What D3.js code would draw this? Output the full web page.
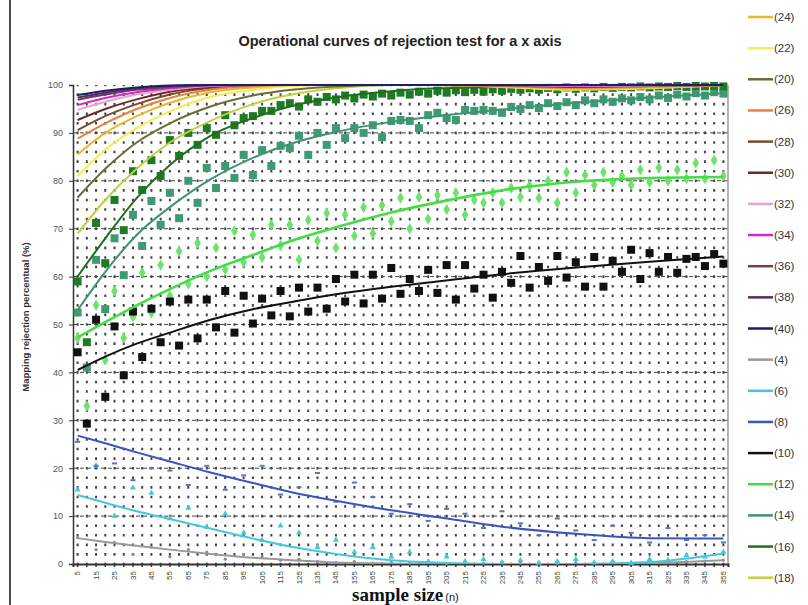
<!DOCTYPE html>
<html>
<head>
<meta charset="utf-8">
<script src="https://cdn.jsdelivr.net/npm/d3@7/dist/d3.min.js"></script>
<style>
  body { margin: 0; background: #fff; }
  svg { display: block; font-family: "Liberation Sans", Arial, sans-serif; }
</style>
</head>
<body>
<svg id="chart" width="808" height="605"></svg>
<script>
// ---- data ----
const sampleSizes = [5,10,15,20,25,30,35,40,45,50,55,60,65,70,75,80,85,90,95,100,
  105,110,115,120,125,130,135,140,145,150,155,160,165,170,175,180,185,190,195,200,
  205,210,215,220,225,230,235,240,245,250,255,260,265,270,275,280,285,290,295,300,
  305,310,315,320,325,330,335,340,345,350,355];
const tickLabels = [5,15,25,35,45,55,65,75,85,95,105,115,125,135,145,155,165,175,
  185,195,205,215,225,235,245,255,265,275,285,295,305,315,325,335,345,355];
const yTicks = [0,10,20,30,40,50,60,70,80,90,100];

// fitted curves, sampled at these sample sizes
const trendX = [5, 20, 37, 55, 77, 100, 121, 145, 175, 200, 235, 275, 315, 355];
const trend4  = [5.4, 4.6, 3.8, 3.0, 2.1, 1.3, 0.8, 0.3, 0.1, 0, 0, 0, 0.2, 0.8];
const trend6  = [14.4, 12.8, 11.0, 9.4, 7.4, 5.3, 3.6, 2.1, 0.8, 0.3, 0, 0, 0.4, 2.2];
const trend8  = [26.8, 25.2, 23.3, 21.4, 19.1, 16.9, 15.0, 13.2, 11.2, 9.8, 7.8, 6.3, 5.4, 5.3];
const trend10 = [40.5, 43.3, 46, 48.3, 51, 53.2, 54.7, 56.3, 57.9, 59, 60.5, 61.9, 63.1, 64.2];
const trend12 = [47.3, 50.5, 54, 57.4, 61.2, 64.5, 67.5, 70.3, 73.4, 75.5, 78, 79.8, 80.6, 80.8];
const trend14 = [53, 61, 68.7, 74.5, 80.3, 84.8, 87.8, 90.2, 92.3, 93.5, 94.9, 96.3, 97.4, 98.3];
const trend16 = [60, 68, 76.4, 83.3, 89.4, 93.1, 95.6, 97.4, 98.7, 99.3, 99.6, 99.8, 99.8, 99.9];
const trend18 = [69, 76, 82.5, 88, 92.5, 96, 98, 99.3, 100, 100, 99.8, 99.5, 99.7, 100];
const trend20 = [76.5, 82.5, 88, 92, 95.5, 97.8, 99, 99.7, 100, 100, 100, 100, 100, 100];
const trend22 = [81, 86.5, 91, 94.5, 97.5, 99, 99.8, 100, 100, 100, 99.6, 99, 99.3, 100];
const trend24 = [85.5, 90, 93.5, 96.3, 98.5, 99.5, 100, 100, 100, 100, 99.7, 99.2, 99.5, 100];
const trend26 = [88.8, 92, 95, 97.3, 99, 99.8, 100, 100, 100, 100, 99.8, 99.4, 99.7, 100];
const trend28 = [90.6, 93.5, 96, 98, 99.4, 100, 100, 100, 100, 100, 99.9, 99.6, 99.8, 100];
const trend30 = [92.7, 95, 97, 98.6, 99.6, 100, 100, 100, 100, 100, 100, 99.7, 99.9, 100];
const trend32 = [94.8, 96.5, 98, 99, 99.8, 100, 100, 100, 100, 100, 100, 99.8, 99.9, 100];
const trend34 = [95.8, 97.3, 98.5, 99.3, 99.9, 100, 100, 100, 100, 100, 100, 99.9, 100, 100];
const trend36 = [96.9, 98, 99, 99.6, 100, 100, 100, 100, 100, 100, 100, 100, 100, 100];
const trend38 = [97.4, 98.4, 99.3, 99.8, 100, 100, 100, 100, 100, 100, 100, 100, 100, 100];
const trend40 = [97.9, 98.8, 99.5, 99.9, 100, 100, 100, 100, 100, 100, 100, 100, 100, 100];

// measured points, one per sample size
const points10 = [44.2,29.3,51,34.9,49.6,39.4,52.7,43.2,53.3,46.3,54.8,45.6,55.2,47.1,55.2,49.4,57,48.3,56,50.2,
  55.4,51.9,57,51.7,57.7,52.7,57.7,53.3,59.5,54.8,60.4,54.4,60.4,55.4,61.8,56.4,59.5,57,61.4,56.6,
  62.4,55.2,62.4,57.5,60.4,55.6,61,58.7,64.3,57.7,62,59.1,64.3,59.8,63,57.9,64.1,57.9,63.3,61,
  65.6,59.5,64.9,61,64.1,60.8,63.7,64.1,62.2,64.7,62.7];
const points12 = [47.2,33,54,42.6,57,47.2,51.6,60.8,52.4,62.4,56,65.3,58.5,67,60,66,61.5,69.5,63,68.7,
  64,70.8,66.5,70.8,63.5,71.8,67.5,73.3,66,72.9,68.5,74.5,69,74.9,71.5,76.4,70,76.6,72,77,
  74,77.5,72.9,76,75.4,77.5,75.4,78.5,76.6,79,76.4,80,75.4,81.8,77.5,81.2,79.1,81.8,79.7,81,
  79.1,82.3,79.7,82.7,80,82.3,80.5,83.7,80.5,84.3,81];
const points14 = [52.5,41,63.5,53.2,68,60.3,72.9,66.4,75.8,70.8,77.5,72.2,80,75.4,82.7,78.5,83.1,80.6,85.4,81.2,
  86.4,83.1,87.3,86.8,89.4,85.4,90,87.5,91,88.9,91,90,91.6,89.1,92.5,92.7,92.5,91,93.7,94.2,
  93.1,92.7,94.8,94.6,94.8,94.6,94.2,95.4,95,95.8,95.2,96.2,95.6,96.4,95.8,96.8,96.2,97,96.5,97.2,
  96.8,97.5,97,97.8,97.3,98,97.6,98.3,97.8,98.5,98.2];
const points16 = [59,46.3,71.2,62.8,76,69.7,82,78.1,84.3,81,88.5,85.2,90,87.5,91,89.6,93.7,91.6,93.1,93.5,
  94.6,94.6,95.8,96.2,95.5,97,96.5,97.5,97,97.8,97.2,98,97.6,98.2,97.8,98.4,98,98.6,98.2,98.8,
  98.4,98.9,98.5,99,98.6,99.1,98.8,99.2,99,99.3,99,99.4,99.1,99.5,99.2,99.5,99.3,99.6,99.4,99.6,
  99.5,99.7,99.5,99.7,99.6,99.8,99.6,99.8,99.7,99.8,99.7];
// sparser points, one per labelled sample size
const points8 = [25.5,20.5,21,17.5,20,19.5,16.5,20.5,15.5,18.5,20.5,14.5,16,19,13,17,14,10.5,
  12.5,9,11.5,10.5,7.5,11,8.5,6,9.5,7,5,8,6.5,4.5,7.5,5,6,4.5];
const points6 = [15.5,20.5,10,15.9,14.8,9.5,11.7,7.7,10.5,6.5,5,8,6.5,3.5,5,2.5,3.5,1.5,
  2.5,0.5,1.5,0.5,1,0.3,0.8,0.2,0.5,1,0.3,0.5,0.2,1,0.8,1.8,1.5,2.5];
const points4 = [5.5,3,4.5,2,3.5,1.5,3,2.5,1,2,1.5,0.8,1,0.5,0.3,0.5,0.2,0.4,
  0.2,0.3,0.1,0.3,0.2,0.4,0.2,0.3,0.1,0.3,0.2,0.3,0.2,0.4,0.3,0.5,0.6,0.8];

const legendNames = ['(24)','(22)','(20)','(26)','(28)','(30)','(32)','(34)','(36)','(38)',
  '(40)','(4)','(6)','(8)','(10)','(12)','(14)','(16)','(18)'];
const legendColors = ['#e8b828','#f2ee50','#6e6a35','#e8823a','#7a4a2e','#6a2a2a','#e3a6c8','#cc2ccc','#7a3a55','#5a2a6a',
  '#1e1e6a','#999999','#45c8dc','#3a55c0','#111111','#44dd44','#3e9470','#1e6e1e','#c0d040'];

const trends = {
  '(4)': trend4, '(6)': trend6, '(8)': trend8, '(10)': trend10, '(12)': trend12,
  '(14)': trend14, '(16)': trend16, '(18)': trend18, '(20)': trend20, '(22)': trend22,
  '(24)': trend24, '(26)': trend26, '(28)': trend28, '(30)': trend30, '(32)': trend32,
  '(34)': trend34, '(36)': trend36, '(38)': trend38, '(40)': trend40
};
const colorOf = name => legendColors[legendNames.indexOf(name)];

// ---- scales ----
const svg = d3.select('#chart');
const plot = { left: 73, right: 728, top: 85, bottom: 564 };

const x = d3.scaleBand().domain(sampleSizes).range([plot.left, plot.right]);
const bw = x.bandwidth();
const cx = v => x(v) + bw / 2;
const xl = d3.scaleLinear().domain([5, 355]).range([cx(5), cx(355)]);
const y = d3.scaleLinear().domain([0, 100]).range([plot.bottom, plot.top]);

// outer frame line on the left
svg.append('line')
  .attr('x1', 10).attr('x2', 10).attr('y1', 0).attr('y2', 605)
  .attr('stroke', '#111').attr('stroke-width', 1.5);

// title
svg.append('text')
  .attr('x', 400).attr('y', 46)
  .attr('text-anchor', 'middle')
  .attr('font-size', 14.5).attr('font-weight', 'bold').attr('fill', '#222')
  .text('Operational curves of rejection test for a x axis');

// ---- grid ----
const grid = svg.append('g');
const dotPeriod = y(0) - y(2);
const dot = 2.6;
grid.selectAll('line.v')
  .data(sampleSizes)
  .join('line')
    .attr('class', 'v')
    .attr('x1', d => cx(d)).attr('x2', d => cx(d))
    .attr('y1', plot.bottom).attr('y2', plot.top)
    .attr('stroke', '#444').attr('stroke-width', 2)
    .attr('stroke-dasharray', dot + ',' + (dotPeriod - dot))
    .attr('stroke-dashoffset', dot / 2);

grid.selectAll('line.h')
  .data(yTicks.filter(d => d > 0 && d < 100))
  .join('line')
    .attr('class', 'h')
    .attr('x1', plot.left).attr('x2', plot.right)
    .attr('y1', d => y(d)).attr('y2', d => y(d))
    .attr('stroke', '#444').attr('stroke-width', 1)
    .attr('stroke-dasharray', '4,3');

// right border of the plot
svg.append('line')
  .attr('x1', plot.right).attr('x2', plot.right)
  .attr('y1', plot.top).attr('y2', plot.bottom)
  .attr('stroke', '#9a9a9a').attr('stroke-width', 1.5);

// ---- axes ----
const yAxis = svg.append('g')
  .attr('transform', `translate(${plot.left},0)`)
  .call(d3.axisLeft(y).tickValues(yTicks).tickSize(4).tickPadding(6));
yAxis.select('.domain').attr('stroke', '#333').attr('stroke-width', 1.5);
yAxis.selectAll('.tick line').attr('stroke', '#333');
yAxis.selectAll('text').attr('font-size', 9).attr('fill', '#555')
  .attr('font-family', '"Liberation Sans", Arial, sans-serif');

const xMinor = svg.append('g')
  .attr('transform', `translate(0,${plot.bottom})`)
  .call(d3.axisBottom(x).tickSize(3).tickFormat(''));
xMinor.select('.domain').attr('stroke', '#333').attr('stroke-width', 2);
xMinor.selectAll('.tick line').attr('stroke', '#333').attr('stroke-width', 1.5);

const xAxis = svg.append('g')
  .attr('transform', `translate(0,${plot.bottom})`)
  .call(d3.axisBottom(x).tickValues(tickLabels).tickSize(0));
xAxis.select('.domain').remove();
xAxis.selectAll('text')
  .attr('font-size', 8).attr('fill', '#444')
  .attr('font-family', '"Liberation Sans", Arial, sans-serif')
  .attr('text-anchor', 'end')
  .attr('dy', '0.32em').attr('dx', 0)
  .attr('transform', 'translate(0,7) rotate(-90)')
  .attr('y', 0).attr('x', 0);

// axis titles
svg.append('text')
  .attr('transform', 'translate(29,317) rotate(-90)')
  .attr('text-anchor', 'middle')
  .attr('font-size', 9.5).attr('font-weight', 'bold').attr('fill', '#333')
  .text('Mapping rejection percentual (%)');

const xTitle = svg.append('text')
  .attr('x', 352).attr('y', 601)
  .attr('fill', '#111');
xTitle.append('tspan')
  .attr('font-family', '"Liberation Serif", "DejaVu Serif", serif')
  .attr('font-weight', 'bold').attr('font-size', 19)
  .text('sample size');
xTitle.append('tspan')
  .attr('font-size', 11).attr('dx', 2)
  .text('(n)');

// ---- marks ----
svg.append('clipPath').attr('id', 'plotClip')
  .append('rect')
    .attr('x', plot.left).attr('y', plot.top - 2)
    .attr('width', plot.right - plot.left).attr('height', plot.bottom - plot.top + 2);

const marks = svg.append('g');
const lines = svg.append('g').attr('clip-path', 'url(#plotClip)');

// small scattered marks for the low curves
marks.selectAll('circle.p4').data(points4).join('circle')
  .attr('class', 'p4')
  .attr('cx', (d, i) => cx(tickLabels[i])).attr('cy', d => y(d))
  .attr('r', 1.6).attr('fill', '#8a8a8a');

marks.selectAll('path.p6').data(points6).join('path')
  .attr('class', 'p6')
  .attr('d', d3.symbol(d3.symbolTriangle, 16))
  .attr('transform', (d, i) => `translate(${cx(tickLabels[i])},${y(d)})`)
  .attr('fill', '#45c8dc');

marks.selectAll('rect.p8').data(points8).join('rect')
  .attr('class', 'p8')
  .attr('x', (d, i) => cx(tickLabels[i]) - 2.5).attr('y', d => y(d) - 1)
  .attr('width', 5).attr('height', 2)
  .attr('fill', '#5a72c8');

// diamonds for (12)
marks.selectAll('path.p12').data(points12).join('path')
  .attr('class', 'p12')
  .attr('d', d3.symbol(d3.symbolDiamond, 38))
  .attr('transform', (d, i) => `translate(${cx(sampleSizes[i])},${y(d)})`)
  .attr('fill', '#6ee26e');

// squares for (10), (14), (16)
const squares = (data, cls, color, size) => {
  marks.selectAll('rect.' + cls).data(data).join('rect')
    .attr('class', cls)
    .attr('x', (d, i) => cx(sampleSizes[i]) - size / 2)
    .attr('y', d => y(d) - size / 2)
    .attr('width', size).attr('height', size)
    .attr('fill', color);
};
squares(points14, 'p14', '#3f9a72', 8);
squares(points16, 'p16', '#1f7a25', 8);
squares(points10, 'p10', '#111111', 8);

// fitted curves
const trendLine = d3.line()
  .x((d, i) => xl(trendX[i]))
  .y(d => y(d))
  .curve(d3.curveMonotoneX);

const drawOrder = ['(4)','(6)','(8)','(10)','(12)','(14)','(16)','(18)','(20)','(22)','(24)',
  '(26)','(28)','(30)','(32)','(34)','(36)','(38)','(40)'];
lines.selectAll('path')
  .data(drawOrder)
  .join('path')
    .attr('d', name => trendLine(trends[name]))
    .attr('fill', 'none')
    .attr('stroke', name => colorOf(name))
    .attr('stroke-width', name => (name === '(12)' ? 2.6 : 2));

// ---- legend ----
const legend = svg.append('g')
  .selectAll('g')
  .data(legendNames)
  .join('g')
    .attr('transform', (d, i) => `translate(748,${17 + i * 31.15})`);
legend.append('line')
  .attr('x1', 0).attr('x2', 25)
  .attr('stroke', d => colorOf(d)).attr('stroke-width', 2.5);
legend.append('text')
  .attr('x', 26).attr('y', 4)
  .attr('font-size', 11.5).attr('fill', '#333')
  .text(d => d);
</script>
</body>
</html>
